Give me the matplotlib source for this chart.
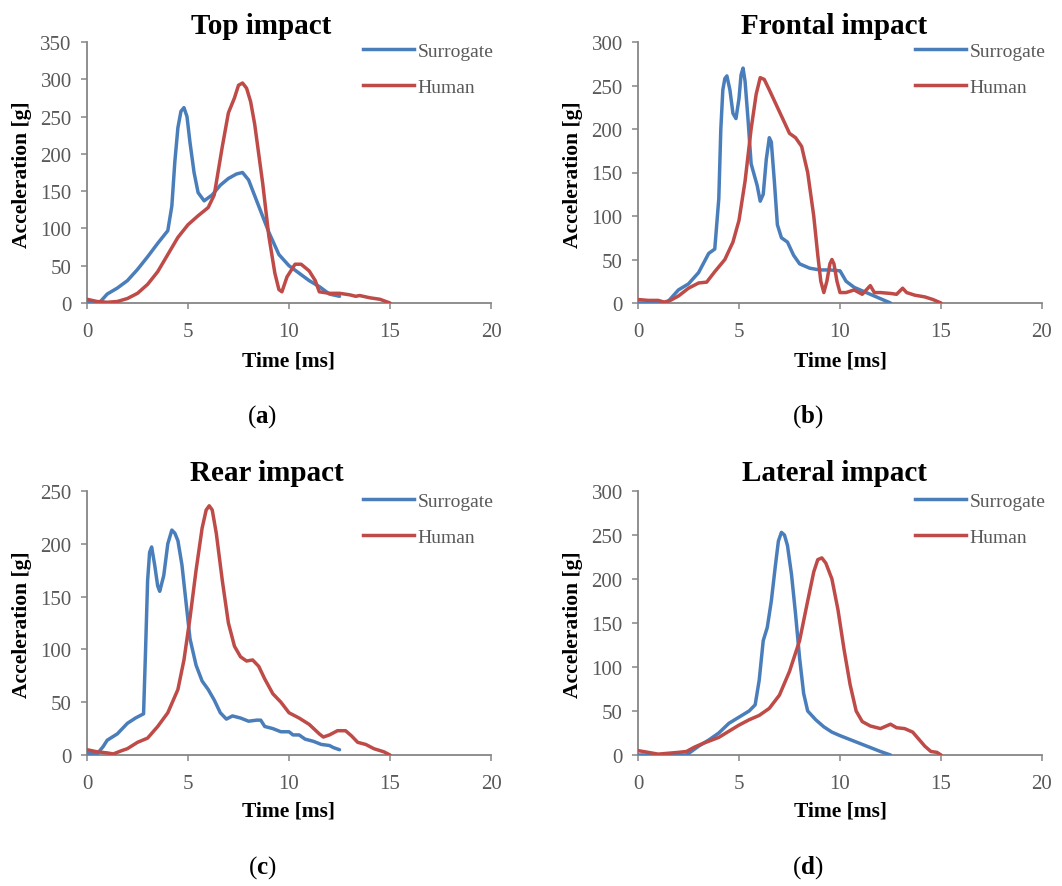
import matplotlib
matplotlib.use("Agg")
import matplotlib.pyplot as plt
from matplotlib.lines import Line2D

plt.rcParams['font.family'] = ['Liberation Serif', 'DejaVu Serif']
plt.rcParams['mathtext.fontset'] = 'custom'
plt.rcParams['mathtext.rm'] = 'Liberation Serif'
plt.rcParams['mathtext.bf'] = 'Liberation Serif:bold'

# ---------------- data ----------------
titles = ["Top impact", "Frontal impact", "Rear impact", "Lateral impact"]
captions = ["a", "b", "c", "d"]
series_names = ["Surrogate", "Human"]
y_max = [350, 300, 250, 300]
x_ticks = [0, 5, 10, 15, 20]

# (a) Top impact
top_sur_t = [0, 0.6, 1.0, 1.5, 2.0, 2.5, 3.0, 3.5, 4.0, 4.2, 4.35, 4.5, 4.65, 4.8, 4.95, 5.1, 5.3, 5.5, 5.8, 6.2, 6.6, 7.0, 7.4, 7.7, 8.0, 8.5, 9.0, 9.5, 10.0, 10.5, 11.0, 11.5, 12.0, 12.5]
top_sur_v = [2, 0, 12, 20, 30, 45, 62, 80, 97, 130, 190, 235, 257, 262, 250, 215, 175, 148, 137, 145, 158, 167, 173, 175, 165, 130, 95, 65, 50, 40, 30, 22, 12, 9]
top_hum_t = [0, 0.5, 1.0, 1.5, 2.0, 2.5, 3.0, 3.5, 4.0, 4.5, 5.0, 5.5, 6.0, 6.3, 6.7, 7.0, 7.3, 7.5, 7.7, 7.9, 8.1, 8.3, 8.7, 9.0, 9.3, 9.5, 9.65, 9.9, 10.3, 10.6, 11.0, 11.3, 11.5, 12.0, 12.5, 13.0, 13.3, 13.5, 14.0, 14.5, 15.0]
top_hum_v = [5, 2, 1, 2, 6, 13, 25, 42, 65, 88, 105, 117, 128, 145, 210, 255, 275, 292, 295, 288, 270, 240, 160, 90, 40, 18, 15, 35, 52, 52, 43, 30, 15, 13, 13, 11, 9, 10, 7, 5, 0]

# (b) Frontal impact
fro_sur_t = [0, 0.5, 1.0, 1.3, 1.5, 2.0, 2.5, 3.0, 3.5, 3.8, 4.0, 4.1, 4.2, 4.3, 4.4, 4.55, 4.7, 4.85, 5.0, 5.1, 5.2, 5.3, 5.45, 5.6, 5.9, 6.05, 6.2, 6.35, 6.5, 6.6, 6.75, 6.9, 7.1, 7.4, 7.7, 8.0, 8.5, 9.0, 9.5, 10.0, 10.3, 10.7, 11.0, 11.5, 12.0, 12.5]
fro_sur_v = [0, 0, 0, 0, 2, 15, 22, 35, 57, 62, 120, 200, 245, 258, 261, 245, 218, 212, 235, 262, 270, 255, 210, 160, 135, 117, 125, 165, 190, 185, 140, 90, 75, 70, 55, 45, 40, 38, 38, 37, 25, 18, 15, 10, 5, 0]
fro_hum_t = [0, 0.5, 1.0, 1.3, 1.6, 2.0, 2.5, 3.0, 3.4, 3.8, 4.3, 4.7, 5.0, 5.3, 5.6, 5.85, 6.05, 6.25, 6.5, 6.8, 7.2, 7.5, 7.8, 8.1, 8.4, 8.7, 8.9, 9.05, 9.2, 9.35, 9.5, 9.6, 9.7, 9.85, 10.0, 10.3, 10.7, 11.1, 11.5, 11.7, 12.0, 12.5, 12.8, 13.1, 13.3, 13.7, 14.2, 14.6, 15.0]
fro_hum_v = [4, 3, 3, 1, 3, 8, 17, 23, 24, 36, 50, 70, 95, 140, 200, 240, 259, 257, 245, 230, 210, 195, 190, 180, 150, 100, 55, 25, 12, 25, 45, 50, 45, 25, 12, 12, 15, 10, 20, 12, 12, 11, 10, 17, 12, 9, 7, 4, 0]

# (c) Rear impact
rea_sur_t = [0, 0.5, 0.8, 1.0, 1.5, 2.0, 2.4, 2.8, 2.9, 3.0, 3.1, 3.2, 3.35, 3.5, 3.6, 3.8, 4.0, 4.2, 4.35, 4.5, 4.7, 4.9, 5.1, 5.4, 5.7, 6.0, 6.3, 6.6, 6.9, 7.2, 7.6, 8.0, 8.4, 8.6, 8.8, 9.2, 9.6, 10.0, 10.2, 10.5, 10.8, 11.2, 11.6, 12.0, 12.2, 12.5]
rea_sur_v = [2, 1, 8, 14, 20, 30, 35, 39, 100, 165, 192, 197, 180, 160, 155, 170, 200, 213, 210, 203, 180, 145, 110, 85, 70, 62, 52, 40, 34, 37, 35, 32, 33, 33, 27, 25, 22, 22, 19, 19, 15, 13, 10, 9, 7, 5]
rea_hum_t = [0, 0.5, 1.0, 1.3, 1.7, 2.0, 2.5, 3.0, 3.5, 4.0, 4.5, 4.8, 5.1, 5.4, 5.7, 5.9, 6.05, 6.2, 6.4, 6.7, 7.0, 7.3, 7.6, 7.9, 8.2, 8.5, 8.8, 9.2, 9.6, 10.0, 10.5, 11.0, 11.5, 11.7, 12.0, 12.4, 12.8, 13.1, 13.4, 13.8, 14.2, 14.7, 15.0]
rea_hum_v = [5, 3, 2, 1, 4, 6, 12, 16, 27, 40, 62, 90, 130, 175, 215, 232, 236, 232, 210, 165, 125, 103, 93, 89, 90, 84, 72, 58, 50, 40, 35, 29, 20, 17, 19, 23, 23, 18, 12, 10, 6, 3, 0]

# (d) Lateral impact
lat_sur_t = [0, 1.0, 2.0, 2.4, 2.7, 3.0, 3.5, 4.0, 4.5, 5.0, 5.5, 5.8, 6.0, 6.2, 6.4, 6.6, 6.8, 6.95, 7.1, 7.25, 7.4, 7.6, 7.8, 8.0, 8.2, 8.4, 8.8, 9.2, 9.6, 10.0, 11.0, 12.0, 12.5]
lat_sur_v = [0, 0, 0, 0, 5, 10, 17, 25, 36, 43, 50, 57, 85, 130, 145, 175, 215, 243, 253, 250, 238, 205, 160, 110, 70, 50, 40, 32, 26, 22, 13, 4, 0]
lat_hum_t = [0, 0.5, 1.0, 1.5, 2.0, 2.4, 2.8, 3.2, 4.0, 4.5, 5.0, 5.5, 6.0, 6.5, 7.0, 7.5, 8.0, 8.4, 8.7, 8.9, 9.1, 9.3, 9.6, 9.9, 10.2, 10.5, 10.8, 11.1, 11.5, 12.0, 12.3, 12.5, 12.8, 13.2, 13.6, 13.9, 14.2, 14.5, 14.8, 15.0]
lat_hum_v = [5, 3, 1, 2, 3, 4, 9, 13, 20, 27, 34, 40, 45, 53, 68, 95, 130, 175, 208, 222, 224, 218, 200, 165, 120, 80, 50, 38, 33, 30, 33, 35, 31, 30, 26, 18, 10, 4, 3, 0]

panels = [
    (top_sur_t, top_sur_v, top_hum_t, top_hum_v),
    (fro_sur_t, fro_sur_v, fro_hum_t, fro_hum_v),
    (rea_sur_t, rea_sur_v, rea_hum_t, rea_hum_v),
    (lat_sur_t, lat_sur_v, lat_hum_t, lat_hum_v),
]

# ---------------- style ----------------
W, H = 1062, 887
BLUE = "#4a7ebb"
RED = "#be4b48"
AXC = "#868686"
TXT = "#595959"
LW = 2.5

fig = plt.figure(figsize=(W / 100, H / 100), dpi=100)

def fx(px):
    return px / W

def fy(py):
    return 1 - py / H

# axes boxes in pixels: left, top, right, bottom
boxes = [(87, 43, 491, 304), (638, 43, 1042, 304), (87, 492, 491, 756), (638, 492, 1042, 756)]
title_pos = [(261, 26), (834, 26), (267, 474), (834, 474)]
ylabel_pos = [(22, 175), (573, 175), (22, 625), (573, 625)]
xlabel_pos = [(288, 362), (840, 362), (288, 812), (840, 812)]
caption_pos = [(262, 417), (808, 417), (262, 868), (808, 868)]
legend_pos = [(363, 50), (915, 50), (363, 500), (915, 500)]

for i, (st, sv, ht, hv) in enumerate(panels):
    l, t, r, b = boxes[i]
    ax = fig.add_axes([fx(l), fy(b), fx(r - l), (b - t) / H])
    ax.plot(st, sv, color=BLUE, lw=LW, solid_joinstyle='round', solid_capstyle='round', zorder=3)
    ax.plot(ht, hv, color=RED, lw=LW, solid_joinstyle='round', solid_capstyle='round', zorder=3)
    ax.set_xlim(0, 20)
    ax.set_ylim(0, y_max[i])
    ax.set_xticks(x_ticks)
    ax.set_yticks(list(range(0, y_max[i] + 1, 50)))
    for side in ["top", "right"]:
        ax.spines[side].set_visible(False)
    for side in ["left", "bottom"]:
        ax.spines[side].set_color(AXC)
        ax.spines[side].set_linewidth(1.3)
    ax.tick_params(axis='both', direction='out', length=4, width=1.1, color=AXC,
                   labelsize=15, labelcolor=TXT)
    ax.tick_params(axis='y', pad=7)
    ax.tick_params(axis='x', pad=10)
    ax.patch.set_visible(False)

    fig.text(fx(title_pos[i][0]), fy(title_pos[i][1]), titles[i], fontsize=21,
             fontweight='bold', ha='center', va='center')
    fig.text(fx(ylabel_pos[i][0]), fy(ylabel_pos[i][1]), "Acceleration [g]", fontsize=15.5,
             fontweight='bold', ha='center', va='center', rotation=90)
    fig.text(fx(xlabel_pos[i][0]), fy(xlabel_pos[i][1]), "Time [ms]", fontsize=15.5,
             fontweight='bold', ha='center', va='center')
    fig.text(fx(caption_pos[i][0]), fy(caption_pos[i][1]), "($\\mathbf{" + captions[i] + "}$)",
             fontsize=18, ha='center', va='center')

    handles = [Line2D([0], [0], color=BLUE, lw=LW), Line2D([0], [0], color=RED, lw=LW)]
    lx, ly = legend_pos[i]
    fig.legend(handles, series_names, loc='upper left',
               bbox_to_anchor=(fx(lx), fy(ly - 7)), bbox_transform=fig.transFigure,
               frameon=False, fontsize=14, handlelength=2.6, handletextpad=0.2,
               borderpad=0, borderaxespad=0, labelspacing=0.95, labelcolor=TXT)

fig.savefig("out.png", dpi=100)
